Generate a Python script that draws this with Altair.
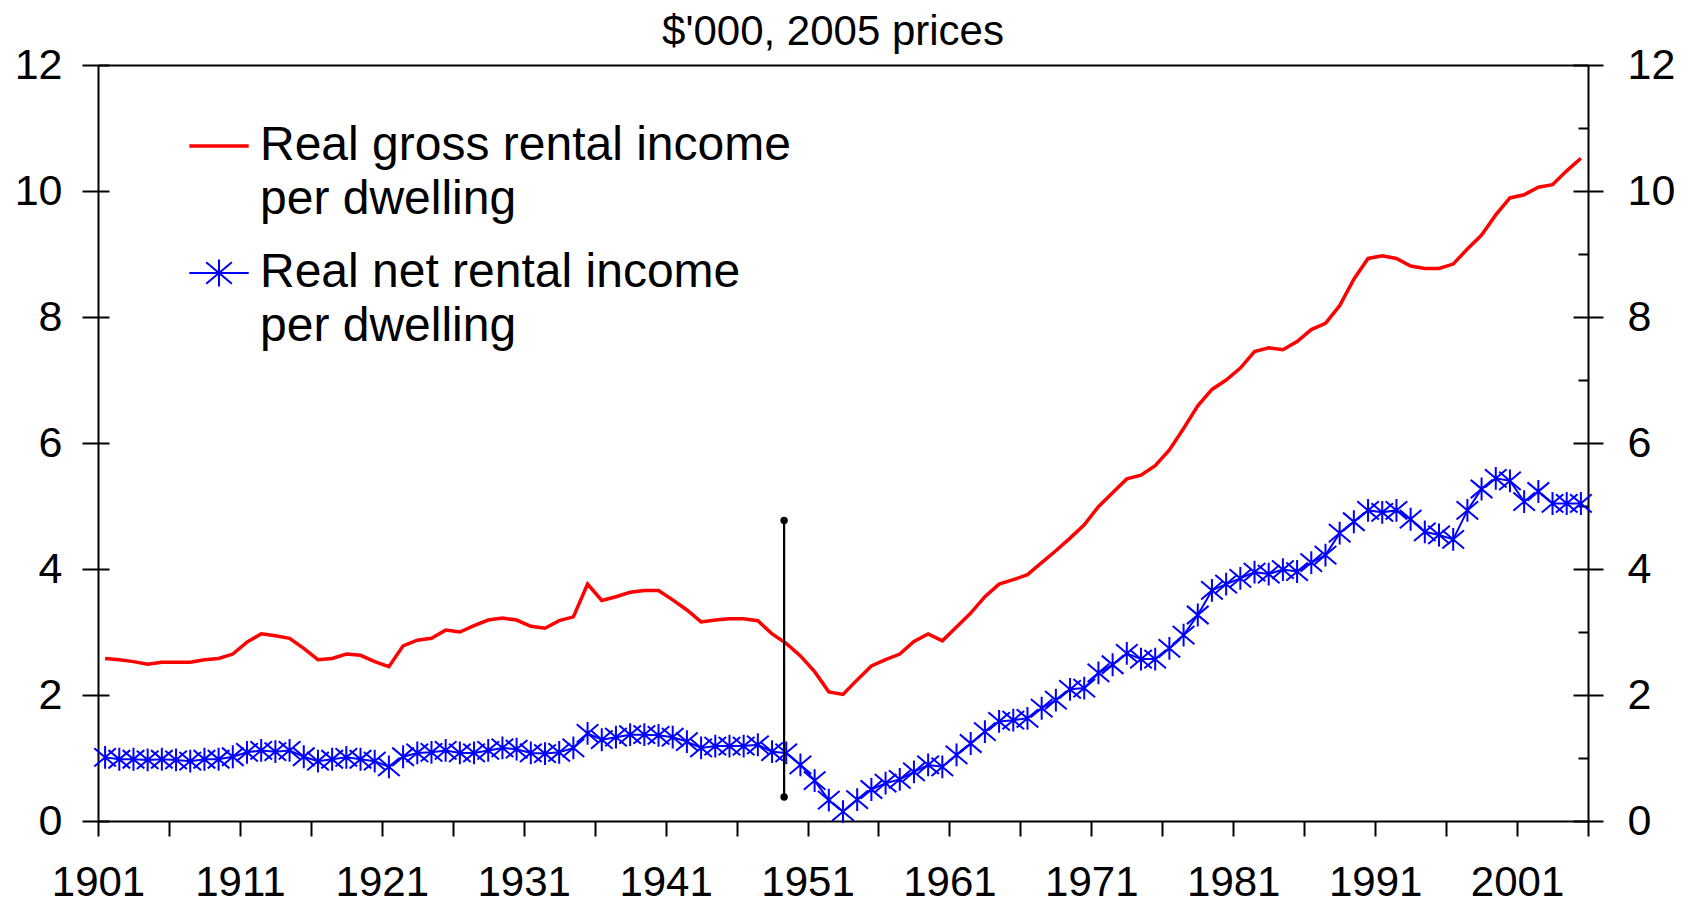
import altair as alt
import pandas as pd

# ---------------- data ----------------
years = list(range(1901, 2006))

gross = [2.58, 2.56, 2.53, 2.49, 2.52, 2.52, 2.52, 2.56, 2.58, 2.65,
         2.84, 2.97, 2.94, 2.90, 2.74, 2.56, 2.58, 2.65, 2.63, 2.53,
         2.45, 2.78, 2.87, 2.90, 3.03, 3.00, 3.10, 3.19, 3.22, 3.19,
         3.09, 3.06, 3.18, 3.24, 3.76, 3.50, 3.56, 3.63, 3.66, 3.66,
         3.51, 3.35, 3.16, 3.19, 3.21, 3.21, 3.18, 2.97, 2.82, 2.62,
         2.37, 2.05, 2.01, 2.24, 2.46, 2.56, 2.65, 2.85, 2.97, 2.86,
         3.08, 3.30, 3.56, 3.76, 3.83, 3.91, 4.10, 4.29, 4.49, 4.70,
         4.99, 5.21, 5.43, 5.49, 5.64, 5.89, 6.23, 6.59, 6.85, 7.00,
         7.19, 7.45, 7.51, 7.48, 7.61, 7.80, 7.90, 8.18, 8.60, 8.93,
         8.97, 8.93, 8.81, 8.77, 8.77, 8.84, 9.08, 9.30, 9.62, 9.89,
         9.94, 10.06, 10.10, 10.32, 10.52]

net = [1.01, 0.98, 0.98, 0.97, 0.98, 0.97, 0.95, 0.98, 0.98, 1.02,
       1.09, 1.12, 1.10, 1.12, 1.02, 0.95, 0.98, 1.01, 0.98, 0.95,
       0.86, 1.02, 1.08, 1.09, 1.12, 1.08, 1.08, 1.12, 1.16, 1.14,
       1.08, 1.07, 1.09, 1.16, 1.39, 1.29, 1.33, 1.37, 1.37, 1.36,
       1.33, 1.26, 1.16, 1.19, 1.19, 1.19, 1.21, 1.10, 1.08, 0.89,
       0.64, 0.33, 0.15, 0.34, 0.50, 0.60, 0.66, 0.78, 0.89, 0.86,
       1.05, 1.23, 1.42, 1.58, 1.60, 1.63, 1.79, 1.92, 2.09, 2.11,
       2.35, 2.48, 2.66, 2.57, 2.57, 2.74, 2.95, 3.27, 3.66, 3.76,
       3.85, 3.95, 3.92, 3.99, 3.96, 4.10, 4.22, 4.57, 4.75, 4.93,
       4.90, 4.93, 4.79, 4.59, 4.54, 4.47, 4.93, 5.27, 5.44, 5.40,
       5.07, 5.23, 5.04, 5.04, 5.04]

series_names = ["Real gross rental income|per dwelling",
                "Real net rental income|per dwelling"]
series_colors = ["#FF0000", "#0000FF"]

break_year = 1948.85
break_low = 0.38
break_high = 4.77

y_major = [0, 2, 4, 6, 8, 10, 12]
y_minor = [1, 3, 5, 7, 9, 11]
x_ticks = [1900.5 + 5 * i for i in range(22)]

title_text = "$'000, 2005 prices"

# ---------------- styling ----------------
FONT = "Liberation Sans"
STAR = "M0,-1L0,1M-0.95,-0.8L0.95,0.8M-0.95,0.8L0.95,-0.8"
LEG_LINE = "M-2.2,0L2.2,0"
LEG_STAR = LEG_LINE + STAR

df = pd.DataFrame({"year": years, "gross": gross, "net": net})
brk = pd.DataFrame({"year": [break_year], "lo": [break_low], "hi": [break_high]})
brk_pts = pd.DataFrame({"year": [break_year, break_year], "v": [break_low, break_high]})
leg_df = pd.DataFrame({"series": series_names})

xscale = alt.Scale(domain=[1900.5, 2005.5], nice=False, zero=False)
yscale = alt.Scale(domain=[0, 12], nice=False, zero=False)

common_axis = dict(grid=False, title=None, domainColor="black", tickColor="black",
                   domainWidth=2, tickWidth=2, labelFont=FONT, labelColor="black",
                   labelFlush=False, labelOverlap=False)

x_main = alt.Axis(orient="bottom", values=x_ticks, tickSize=15, labelPadding=26,
                  labelFontSize=42,
                  labelExpr="(datum.value - 1900.5) % 10 == 0 ? format(datum.value + 0.5, 'd') : ''",
                  **common_axis)
x_top = alt.Axis(orient="top", ticks=False, labels=False, **common_axis)

y_left = alt.Axis(orient="left", values=y_major, tickSize=16, labelPadding=20,
                  labelFontSize=43, **common_axis)
y_left_in = alt.Axis(orient="left", values=y_major, tickSize=11, offset=-11,
                     labels=False, domain=False, **common_axis)
y_right = alt.Axis(orient="right", values=y_major, tickSize=15, labelPadding=24,
                   labelFontSize=43, **common_axis)
y_right_in = alt.Axis(orient="right", values=y_major, tickSize=15, offset=-15,
                      labels=False, domain=False, **common_axis)
y_right_minor = alt.Axis(orient="right", values=y_minor, tickSize=10, offset=-10,
                         labels=False, domain=False, **common_axis)

gross_line = alt.Chart(df).mark_line(color="#FF0000", strokeWidth=3.5).encode(
    x=alt.X("year:Q", scale=xscale, axis=x_main),
    y=alt.Y("gross:Q", scale=yscale, axis=y_left),
)

net_line = alt.Chart(df).mark_line(color="#0000FF", strokeWidth=2).encode(
    x=alt.X("year:Q", scale=xscale, axis=x_top),
    y=alt.Y("net:Q", scale=yscale, axis=y_right),
)

net_pts = alt.Chart(df).mark_point(shape=STAR, filled=False, color="#0000FF",
                                   strokeWidth=2, size=520, opacity=1).encode(
    x=alt.X("year:Q", scale=xscale, axis=None),
    y=alt.Y("net:Q", scale=yscale, axis=y_left_in),
)

break_rule = alt.Chart(brk).mark_rule(color="black", strokeWidth=2.2).encode(
    x=alt.X("year:Q", scale=xscale, axis=None),
    y=alt.Y("lo:Q", scale=yscale, axis=y_right_in),
    y2="hi:Q",
)

break_dots = alt.Chart(brk_pts).mark_point(filled=True, color="black", size=55,
                                           opacity=1, shape="circle").encode(
    x=alt.X("year:Q", scale=xscale, axis=None),
    y=alt.Y("v:Q", scale=yscale, axis=y_right_minor),
)

leg = alt.Legend(orient="none", legendX=97, legendY=57, title=None, padding=0,
                 labelFont=FONT, labelFontSize=48, labelColor="black", labelLimit=2000,
                 labelExpr="split(datum.label, '|')", labelOffset=17,
                 symbolSize=729, rowPadding=25, symbolOpacity=1)

legend_layer = alt.Chart(leg_df).mark_point(filled=False, opacity=1).encode(
    color=alt.Color("series:N", scale=alt.Scale(domain=series_names, range=series_colors), legend=leg),
    shape=alt.Shape("series:N", scale=alt.Scale(domain=series_names, range=[LEG_LINE, LEG_STAR]), legend=leg),
    strokeWidth=alt.StrokeWidth("series:N", scale=alt.Scale(domain=series_names, range=[3.5, 2]), legend=leg),
).transform_filter("false")

chart = alt.layer(
    gross_line, net_line, net_pts, break_rule, break_dots, legend_layer
).resolve_axis(
    x="independent", y="independent"
).properties(
    width=1490, height=756,
    autosize=alt.AutoSizeParams(type="none"),
    padding={"left": 90, "top": 57, "right": 98, "bottom": 83},
    title=alt.TitleParams(title_text, font=FONT, fontSize=42, fontWeight="normal",
                          color="black", anchor="middle", offset=-10, dx=-10),
).configure_view(
    stroke=None
).configure(
    style={"guide-label": {"lineHeight": 54}}
)

chart.save("out.html", embed_options={"renderer": "svg", "actions": False})
